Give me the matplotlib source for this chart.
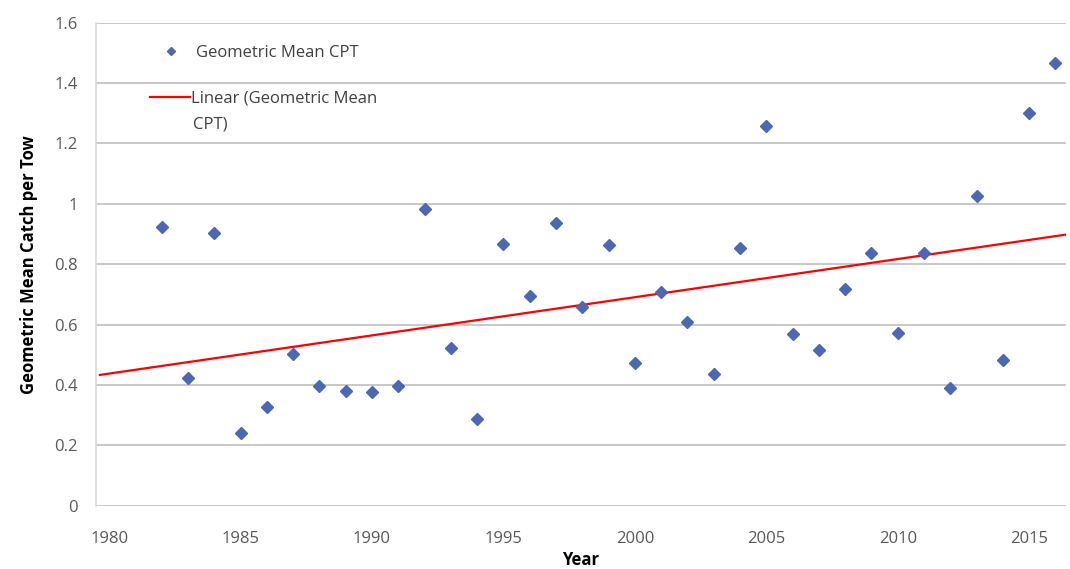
import numpy as np
import matplotlib.pyplot as plt
from matplotlib.lines import Line2D

plt.rcParams['font.family'] = ['Open Sans', 'DejaVu Sans']

years = np.arange(1982, 2017)
cpt = [0.922, 0.422, 0.902, 0.242, 0.326, 0.502, 0.397, 0.381, 0.378, 0.396,
       0.982, 0.521, 0.286, 0.866, 0.696, 0.935, 0.659, 0.864, 0.472, 0.707,
       0.610, 0.435, 0.853, 1.259, 0.568, 0.516, 0.718, 0.838, 0.573, 0.838,
       0.389, 1.026, 0.483, 1.302, 1.467]
x_ticks = [1980, 1985, 1990, 1995, 2000, 2005, 2010, 2015]
y_ticks = [0, 0.2, 0.4, 0.6, 0.8, 1, 1.2, 1.4, 1.6]
y_labels = ['0', '0.2', '0.4', '0.6', '0.8', '1', '1.2', '1.4', '1.6']

blue = '#4C68B2'
red = '#FF0000'

fig = plt.figure(figsize=(10.7, 5.69), dpi=100)
ax = fig.add_axes([0.0897, 0.1112, 0.9065, 0.8489])

xlo, xhi = 1979.5, 2016.4

# linear trend over the data, drawn across the axis
slope, icpt = np.polyfit(years, cpt, 1)
xs = np.array([xlo + 0.15, xhi])
ax.plot(xs, slope * xs + icpt, color=red, lw=1.6, zorder=2)
ax.plot(years, cpt, 'D', color=blue, markersize=6.5, zorder=3, linestyle='none')

ax.set_xlim(xlo, xhi)
ax.set_ylim(0, 1.6)
ax.set_xticks(x_ticks)
ax.set_yticks(y_ticks)
ax.set_yticklabels(y_labels)
ax.tick_params(length=0, labelsize=12, colors='#595959')
ax.tick_params(axis='x', pad=18)
ax.tick_params(axis='y', pad=13)
ax.grid(axis='y', color='#BFBFBF', lw=1.2)
ax.set_axisbelow(True)
for s in ['top', 'right', 'bottom']:
    ax.spines[s].set_visible(False)
ax.spines['left'].set_color('#D9D9D9')
ax.spines['left'].set_linewidth(1.2)

ax.set_xlabel('Year', fontsize=12, fontweight='bold', labelpad=3)
ax.set_ylabel('Geometric Mean Catch per Tow', fontsize=12, fontweight='bold', labelpad=12)

# legend, Excel style: line handle sits on the first line of a wrapped label
h1 = Line2D([], [], marker='D', color=blue, markersize=4.5, linestyle='none')
h2 = Line2D([], [], color=red, lw=1.6)
leg1 = ax.legend([h1], ['Geometric Mean CPT'], loc='upper left',
                 bbox_to_anchor=(0.04, 0.985), frameon=False, fontsize=12,
                 handlelength=2.6, handletextpad=0.2, labelcolor='#404040')
ax.add_artist(leg1)
ax.legend([h2], ['Linear (Geometric Mean'], loc='upper left',
          bbox_to_anchor=(0.04, 0.89), frameon=False, fontsize=12,
          handlelength=2.4, handletextpad=0.1, labelcolor='#404040')
ax.text(0.1, 0.79, 'CPT)', transform=ax.transAxes, fontsize=12,
        color='#404040', va='center')

plt.savefig('out.png', dpi=100)
